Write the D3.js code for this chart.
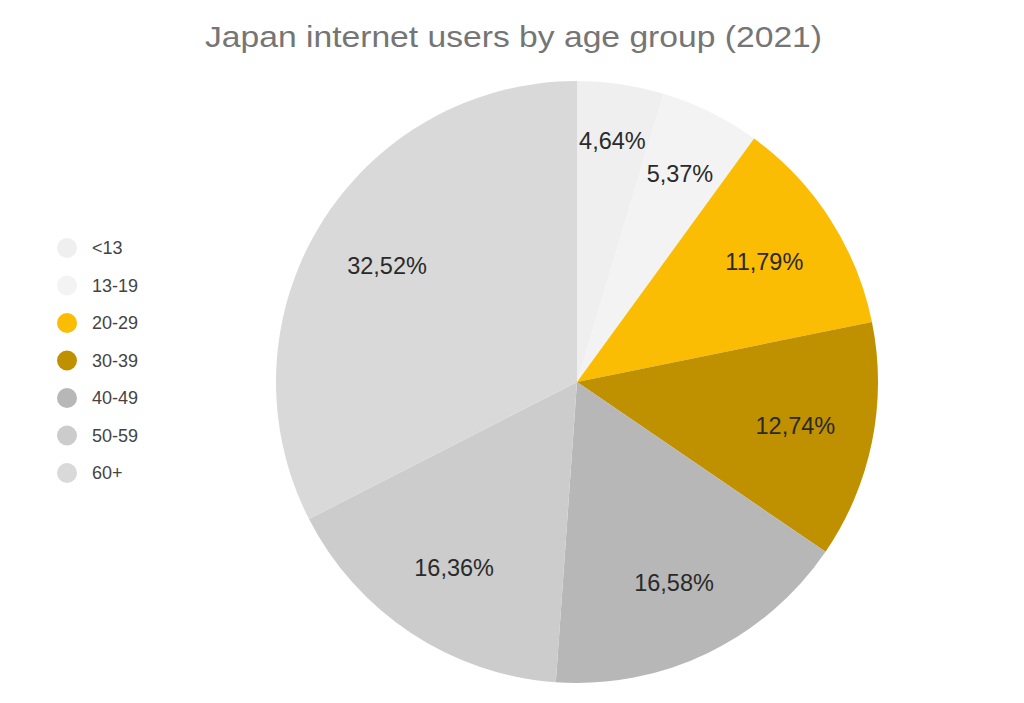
<!DOCTYPE html>
<html><head><meta charset="utf-8">
<script src="https://cdn.jsdelivr.net/npm/d3@7"></script>
<style>body{margin:0;background:#fff;}svg{display:block;}</style>
</head><body>
<svg id="c" width="1024" height="703"></svg>
<script>
const categories = ["<13","13-19","20-29","30-39","40-49","50-59","60+"];
const values = [4.64, 5.37, 11.79, 12.74, 16.58, 16.36, 32.52];
const colors = ["#efefef","#f3f3f3","#fbbc04","#bf9000","#b7b7b7","#cccccc","#d9d9d9"];
const title = "Japan internet users by age group (2021)";

const svg = d3.select("#c");
const cx = 577, cy = 382, R = 301;
const data = categories.map((c,i)=>({cat:c,value:values[i],color:colors[i]}));
const pie = d3.pie().sort(null).value(d=>d.value);
const arc = d3.arc().innerRadius(0).outerRadius(R);
// narrow slices push their labels outward
const labelR = d => {
  const f = (d.endAngle - d.startAngle) / (2*Math.PI);
  return R * (f < 0.05 ? 0.81 : f < 0.06 ? 0.77 : 0.74);
};
const g = svg.append("g").attr("transform",`translate(${cx},${cy})`);
const arcs = pie(data);
g.selectAll("path").data(arcs).join("path").attr("d",arc).attr("fill",d=>d.data.color);
const fmt = v => v.toFixed(2).replace(".",",")+"%";
g.selectAll("text").data(arcs).join("text")
  .attr("transform",d=>{
    const r = labelR(d);
    return `translate(${d3.arc().innerRadius(r).outerRadius(r).centroid(d)})`;
  })
  .attr("text-anchor","middle").attr("dominant-baseline","central")
  .attr("font-family","Liberation Sans, Arial, sans-serif").attr("font-size",23.5)
  .attr("fill","#2a2a2a").text(d=>fmt(d.data.value));

svg.append("text").attr("x",513.5).attr("y",47).attr("text-anchor","middle")
  .attr("font-family","Liberation Sans, Arial, sans-serif").attr("font-size",30)
  .attr("textLength",617).attr("lengthAdjust","spacingAndGlyphs")
  .attr("fill","#757575").text(title);

const y = d3.scalePoint().domain(categories).range([248,473]);
const lg = svg.append("g");
const items = lg.selectAll("g").data(data).join("g").attr("transform",d=>`translate(67,${y(d.cat)})`);
items.append("circle").attr("r",10).attr("fill",d=>d.color);
items.append("text").attr("x",25).attr("dy","0.36em")
  .attr("font-family","Liberation Sans, Arial, sans-serif").attr("font-size",18)
  .attr("fill","#444").text(d=>d.cat);
</script>
</body></html>
